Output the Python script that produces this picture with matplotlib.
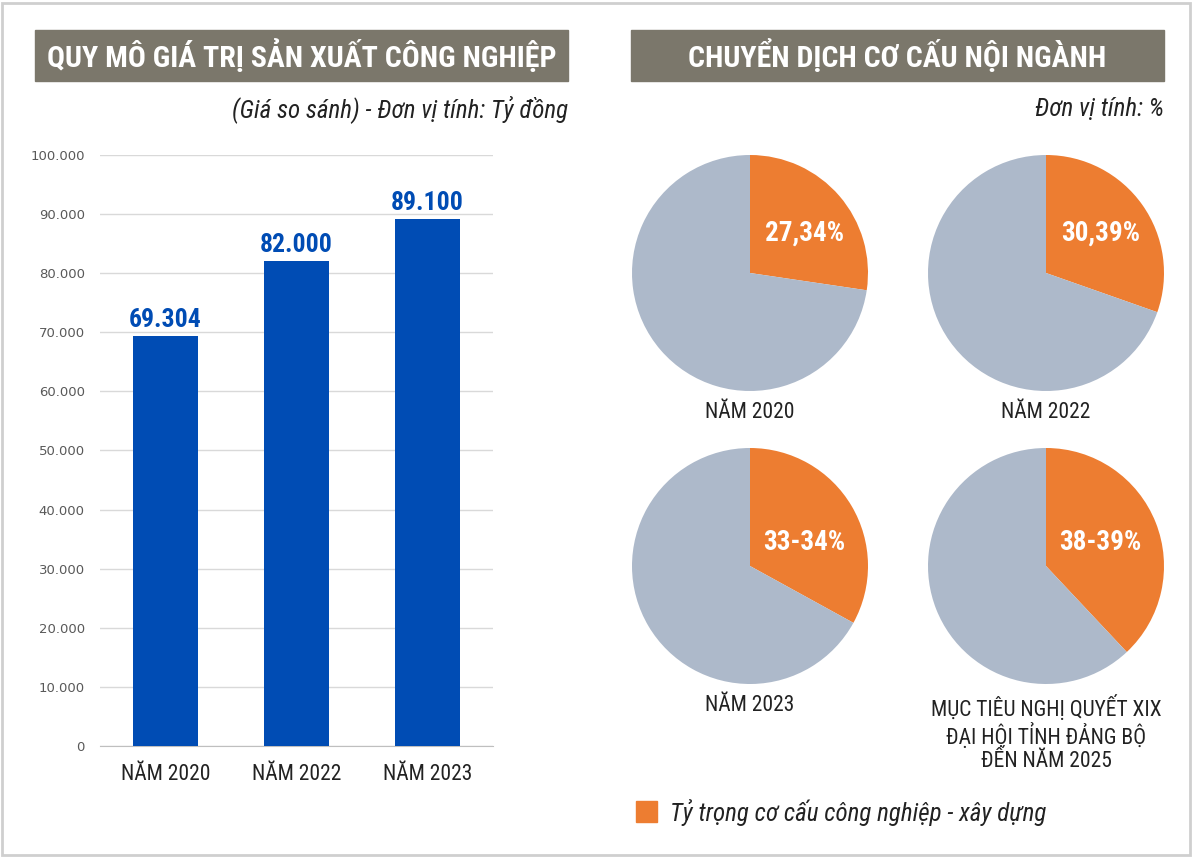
import matplotlib.pyplot as plt
from matplotlib.patches import Rectangle
from matplotlib.ticker import FuncFormatter

# Du lieu
nam = ["NĂM 2020", "NĂM 2022", "NĂM 2023"]
gia_tri = [69304, 82000, 89100]
nhan_gia_tri = ["69.304", "82.000", "89.100"]

ty_trong = [27.34, 30.39, 33.0, 38.0]
nhan_ty_trong = ["27,34%", "30,39%", "33-34%", "38-39%"]
ten_pie = ["NĂM 2020", "NĂM 2022", "NĂM 2023",
           "MỤC TIÊU NGHỊ QUYẾT XIX\nĐẠI HỘI TỈNH ĐẢNG BỘ\nĐẾN NĂM 2025"]

W, H = 1200, 858
NARROW = ["Roboto Condensed", "Liberation Sans Narrow", "DejaVu Sans Condensed", "DejaVu Sans"]
XAM = "#7b776b"
CAM = "#ed7d31"
XANH = "#004cb4"
BAC = "#adb9ca"


def box(x0, y0, x1, y1):
    return [x0 / W, 1 - y1 / H, (x1 - x0) / W, (y1 - y0) / H]


fig = plt.figure(figsize=(12, 8.58), dpi=100)

# khung vien
fig.patches.append(Rectangle((0.002, 0.003), 0.99, 0.994, transform=fig.transFigure,
                             fill=False, edgecolor="#cfcfcf", linewidth=2))

# tieu de
for x0, x1, tieu_de in [(35, 568, "QUY MÔ GIÁ TRỊ SẢN XUẤT CÔNG NGHIỆP"),
                        (631, 1164, "CHUYỂN DỊCH CƠ CẤU NỘI NGÀNH")]:
    fig.patches.append(Rectangle((x0 / W, 1 - 81 / H), (x1 - x0) / W, 51 / H,
                                 transform=fig.transFigure, color=XAM))
    fig.text((x0 + x1) / 2 / W, 1 - 56 / H, tieu_de, ha="center", va="center",
             color="white", fontsize=21.5, fontweight="bold", family=NARROW)

fig.text(568 / W, 1 - 109 / H, "(Giá so sánh) - Đơn vị tính: Tỷ đồng", ha="right",
         va="center", fontsize=18, style="italic", family=NARROW, color="#222222")
fig.text(1164 / W, 1 - 109 / H, "Đơn vị tính: %", ha="right",
         va="center", fontsize=18, style="italic", family=NARROW, color="#222222")

# bieu do cot
ax = fig.add_axes(box(100, 155, 493, 746))
ax.bar(range(len(nam)), gia_tri, width=0.49, color=XANH, zorder=3)
ax.set_xlim(-0.5, 2.5)
ax.set_ylim(0, 100000)
ax.set_yticks(range(0, 100001, 10000))
ax.yaxis.set_major_formatter(FuncFormatter(lambda v, p: f"{int(v):,}".replace(",", ".")))
ax.grid(axis="y", color="#d9d9d9", linewidth=1, zorder=0)
for s in ["top", "right", "left"]:
    ax.spines[s].set_visible(False)
ax.spines["bottom"].set_color("#bfbfbf")
ax.tick_params(axis="y", length=0, labelsize=9.5, labelcolor="#595959", pad=11)
ax.tick_params(axis="x", length=0, pad=13)
ax.set_xticks(range(len(nam)))
ax.set_xticklabels(nam, fontsize=15.5, family=NARROW, color="#222222")
for i, v in enumerate(gia_tri):
    ax.annotate(nhan_gia_tri[i], (i, v), xytext=(0, 3), textcoords="offset points",
                ha="center", va="bottom", fontsize=18.5, fontweight="bold",
                family=NARROW, color=XANH)

# bieu do tron
tam = [(750, 273), (1046, 273), (750, 566), (1046, 566)]
nhan_y = [0.34, 0.34, 0.20, 0.20]
r = 118
for k, (cx, cy) in enumerate(tam):
    axp = fig.add_axes(box(cx - r, cy - r, cx + r, cy + r))
    axp.pie([ty_trong[k], 100 - ty_trong[k]], colors=[CAM, BAC], startangle=90,
            counterclock=False, radius=1)
    axp.set_xlim(-1, 1)
    axp.set_ylim(-1, 1)
    axp.set_aspect("equal")
    axp.axis("off")
    axp.text(0.46, nhan_y[k], nhan_ty_trong[k], ha="center", va="center",
             color="white", fontsize=19.5, fontweight="bold", family=NARROW)
    fig.text(cx / W, 1 - (cy + r + 11) / H, ten_pie[k], ha="center", va="top",
             fontsize=15.5, family=NARROW, color="#222222", linespacing=1.1)

# chu thich
fig.patches.append(Rectangle((636 / W, 1 - 822 / H), 21 / W, 21 / H,
                             transform=fig.transFigure, color=CAM))
fig.text(670 / W, 1 - 812 / H, "Tỷ trọng cơ cấu công nghiệp - xây dựng", ha="left",
         va="center", fontsize=18, style="italic", family=NARROW, color="#222222")

fig.savefig("out.png", dpi=100)
